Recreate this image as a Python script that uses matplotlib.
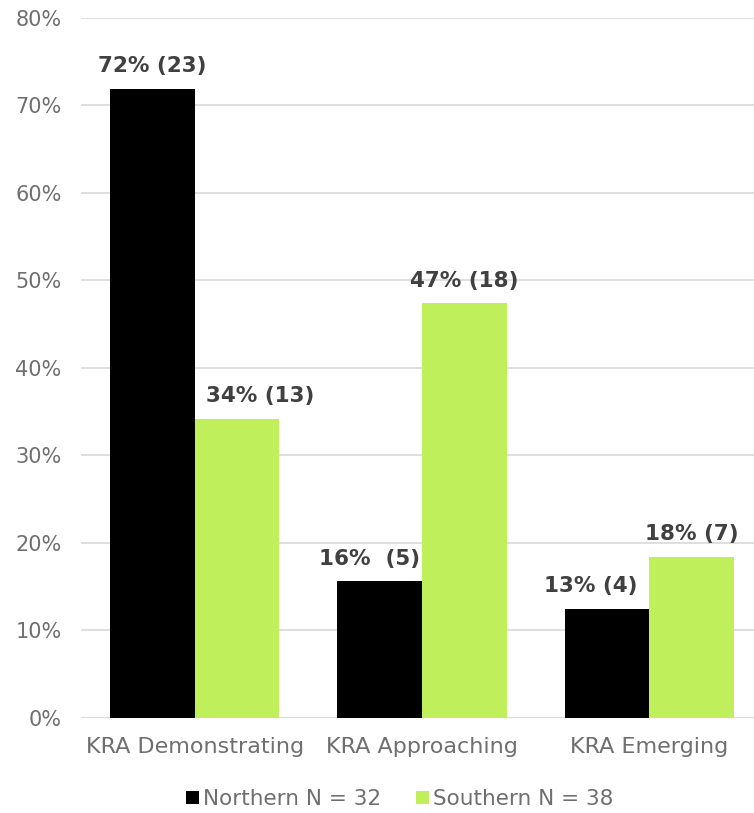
import matplotlib
matplotlib.use("Agg")
import matplotlib.pyplot as plt
import numpy as np

# data
categories = ["KRA Demonstrating", "KRA Approaching", "KRA Emerging"]
northern = [71.9, 15.6, 12.5]
southern = [34.2, 47.4, 18.4]
northern_labels = ["72% (23)", "16%  (5)", "13% (4)"]
southern_labels = ["34% (13)", "47% (18)", "18% (7)"]
yticks = [0, 10, 20, 30, 40, 50, 60, 70, 80]

plt.rcParams['font.family'] = ['DejaVu Sans']

fig = plt.figure(figsize=(7.54, 8.13), dpi=100)
ax = fig.add_axes([0.1074, 0.1169, 0.9046, 0.861])

x = np.arange(len(categories))
w = 0.372
b1 = ax.bar(x - w/2, northern, w, color="#000000", label="Northern N = 32", zorder=3)
b2 = ax.bar(x + w/2, southern, w, color="#bfef5a", label="Southern N = 38", zorder=3)

# labels were nudged by hand in the original, shift in points
shifts = ([0, -7, -12], [17, 0, 0])
for bars, labs, sh in ((b1, northern_labels, shifts[0]), (b2, southern_labels, shifts[1])):
    for r, t, dx in zip(bars, labs, sh):
        ax.annotate(t, (r.get_x() + r.get_width()/2, r.get_height()),
                    xytext=(dx, 9), textcoords="offset points",
                    ha="center", va="bottom", fontsize=15.5, fontweight="bold",
                    color="#404040")

ax.set_ylim(0, 80)
ax.set_xlim(-0.5, 2.5)
ax.set_yticks(yticks)
ax.set_yticklabels([f"{v}%" for v in yticks])
ax.set_xticks(x)
ax.set_xticklabels(categories)
ax.tick_params(axis="both", length=0, labelcolor="#6f6f6f")
ax.tick_params(axis="x", pad=14, labelsize=16)
ax.tick_params(axis="y", pad=14, labelsize=15)
ax.grid(axis="y", color="#d9d9d9", lw=1.2, zorder=0)
ax.set_axisbelow(True)
for s in ax.spines.values():
    s.set_visible(False)
ax.axhline(0, color="#d9d9d9", lw=1.2, zorder=1)

fig.legend(loc="center", bbox_to_anchor=(0.53, 0.017), ncol=2, frameon=False,
           fontsize=15.5, labelcolor="#6f6f6f", handlelength=0.6, handleheight=0.6,
           handletextpad=0.2, columnspacing=1.6)

fig.savefig("out.png", dpi=100)
